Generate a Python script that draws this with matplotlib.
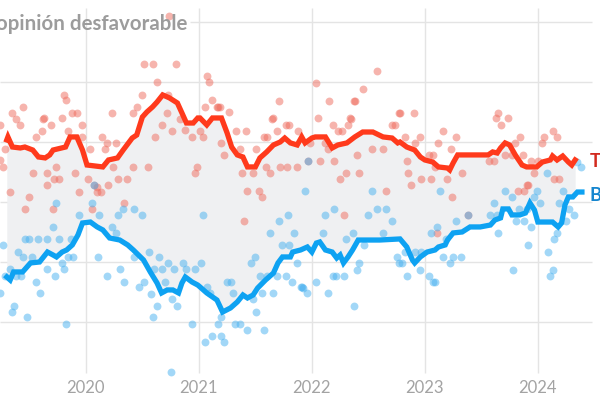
import numpy as np
import matplotlib
matplotlib.use("Agg")
import matplotlib.pyplot as plt

# ---- data (decimal year, % unfavourable) ----
trump_date = [2019.30, 2019.31, 2019.35, 2019.42, 2019.46, 2019.53, 2019.58, 2019.64, 2019.68, 2019.71,
              2019.82, 2019.86, 2019.92, 2019.97, 2020.01, 2020.15, 2020.20, 2020.28, 2020.33, 2020.41,
              2020.45, 2020.50, 2020.54, 2020.59, 2020.63, 2020.68, 2020.74, 2020.81, 2020.85, 2020.89,
              2020.95, 2020.99, 2021.01, 2021.07, 2021.12, 2021.20, 2021.25, 2021.29, 2021.34, 2021.39,
              2021.43, 2021.50, 2021.54, 2021.60, 2021.66, 2021.72, 2021.76, 2021.81, 2021.87, 2021.91,
              2021.94, 2022.00, 2022.03, 2022.12, 2022.18, 2022.23, 2022.31, 2022.38, 2022.45, 2022.54,
              2022.63, 2022.71, 2022.76, 2022.78, 2022.84, 2022.91, 2022.96, 2023.00, 2023.07, 2023.12,
              2023.20, 2023.22, 2023.25, 2023.29, 2023.37, 2023.56, 2023.60, 2023.64, 2023.67, 2023.71,
              2023.75, 2023.80, 2023.86, 2023.90, 2023.99, 2024.04, 2024.11, 2024.13, 2024.17, 2024.22,
              2024.27, 2024.30, 2024.33]
trump_avg = [50.17, 50.42, 49.58, 49.5, 49.58, 49.33, 48.75, 48.67, 48.92, 49.33,
             49.58, 50.42, 50.42, 49.33, 48.08, 47.92, 48.5, 48.67, 49.33, 50.33,
             50.58, 52.08, 52.5, 52.92, 53.33, 53.92, 53.67, 53.25, 52.42, 51.58,
             51.58, 52.0, 52.0, 51.42, 52.0, 52.0, 50.75, 49.58, 48.92, 48.75,
             47.92, 47.92, 48.67, 49.17, 49.75, 50.0, 50.33, 49.92, 49.75, 50.42,
             49.92, 50.33, 50.42, 50.42, 49.5, 49.75, 49.92, 50.42, 50.83, 50.83,
             50.42, 50.33, 49.92, 50.0, 49.58, 49.33, 48.75, 48.5, 48.33, 47.92,
             47.83, 47.67, 48.25, 48.92, 48.92, 48.92, 49.17, 49.08, 49.5, 49.92,
             49.75, 48.92, 48.08, 47.92, 47.92, 48.33, 48.5, 48.83, 48.5, 48.83,
             48.33, 48.08, 48.5]

biden_date = [2019.30, 2019.33, 2019.36, 2019.44, 2019.51, 2019.59, 2019.66, 2019.71, 2019.74, 2019.79,
              2019.83, 2019.88, 2019.93, 2019.97, 2020.04, 2020.10, 2020.15, 2020.21, 2020.30, 2020.37,
              2020.42, 2020.51, 2020.57, 2020.63, 2020.67, 2020.72, 2020.77, 2020.82, 2020.85, 2020.88,
              2020.94, 2020.99, 2021.01, 2021.07, 2021.16, 2021.21, 2021.28, 2021.34, 2021.39, 2021.43,
              2021.48, 2021.52, 2021.59, 2021.66, 2021.70, 2021.74, 2021.81, 2021.83, 2021.90, 2021.96,
              2022.00, 2022.04, 2022.07, 2022.12, 2022.18, 2022.22, 2022.25, 2022.28, 2022.32, 2022.36,
              2022.41, 2022.60, 2022.78, 2022.84, 2022.89, 2022.91, 2022.96, 2023.02, 2023.09, 2023.12,
              2023.18, 2023.20, 2023.25, 2023.33, 2023.40, 2023.49, 2023.58, 2023.62, 2023.67, 2023.69,
              2023.74, 2023.77, 2023.84, 2023.89, 2023.93, 2023.97, 2024.00, 2024.13, 2024.18, 2024.21,
              2024.24, 2024.27, 2024.31, 2024.35, 2024.39]
biden_avg = [38.75, 38.5, 39.17, 39.17, 39.92, 40.0, 40.83, 40.58, 40.42, 40.83,
             41.0, 41.42, 42.25, 43.25, 43.33, 42.92, 42.67, 42.0, 41.83, 41.42,
             41.0, 40.17, 39.17, 38.25, 37.42, 37.67, 37.67, 37.42, 38.25, 38.75,
             38.33, 38.08, 37.92, 37.42, 36.83, 35.83, 36.17, 36.67, 37.25, 37.0,
             37.25, 37.83, 38.5, 39.08, 39.92, 40.42, 40.42, 40.83, 41.0, 41.25,
             40.83, 41.58, 41.67, 41.0, 40.83, 40.33, 40.58, 39.92, 40.42, 41.0,
             41.83, 41.83, 41.92, 41.25, 40.17, 39.92, 40.42, 40.83, 41.0, 41.25,
             41.42, 41.83, 42.42, 42.5, 42.92, 42.92, 43.08, 43.5, 43.67, 44.42,
             44.42, 43.92, 43.92, 44.08, 44.92, 44.33, 43.33, 43.33, 42.92, 43.25,
             44.75, 45.42, 45.42, 45.83, 45.83]

trump_poll_date = [2020.74, 2020.51, 2020.59, 2020.80, 2021.07, 2021.09, 2020.63, 2019.81, 2019.82, 2019.35,
                   2019.44, 2020.50, 2020.73, 2021.12, 2021.05, 2021.17, 2021.27, 2021.71, 2021.66, 2020.23,
                   2019.63, 2019.79, 2019.88, 2019.92, 2020.45, 2020.42, 2022.58, 2022.04, 2022.45, 2022.15,
                   2022.38, 2022.78, 2022.90, 2022.05, 2022.34, 2023.65, 2023.63, 2023.74, 2019.38, 2019.42,
                   2019.24, 2019.62, 2019.69, 2019.97, 2019.84, 2019.61, 2019.56, 2019.28, 2019.24, 2019.27,
                   2020.61, 2020.67, 2020.72, 2020.76, 2020.83, 2020.88, 2020.94, 2019.97, 2020.04, 2020.14,
                   2020.19, 2020.17, 2020.27, 2020.24, 2020.42, 2020.55, 2019.53, 2019.66, 2019.74, 2019.90,
                   2019.72, 2019.76, 2019.66, 2020.28, 2020.36, 2020.20, 2020.02, 2020.10, 2020.10, 2020.13,
                   2019.33, 2019.94, 2019.50, 2019.46, 2020.34, 2019.71, 2020.05, 2020.97, 2020.98, 2021.04,
                   2021.01, 2021.16, 2021.19, 2021.65, 2021.33, 2021.42, 2021.58, 2021.60, 2021.69, 2021.77,
                   2021.80, 2021.88, 2021.20, 2021.22, 2021.36, 2021.51, 2021.59, 2021.63, 2021.72, 2021.78,
                   2021.87, 2021.38, 2021.48, 2021.43, 2021.53, 2021.56, 2021.40, 2022.07, 2022.20, 2022.25,
                   2022.30, 2022.42, 2022.28, 2022.66, 2022.19, 2022.23, 2022.27, 2022.32, 2022.35, 2022.37,
                   2022.71, 2022.74, 2022.77, 2021.98, 2022.12, 2022.14, 2022.40, 2022.53, 2022.63, 2022.82,
                   2022.91, 2022.96, 2023.04, 2023.07, 2023.12, 2023.16, 2023.23, 2023.28, 2022.84, 2022.85,
                   2022.88, 2022.97, 2023.05, 2023.09, 2023.20, 2023.33, 2023.24, 2023.67, 2023.84, 2023.80,
                   2023.57, 2023.61, 2023.71, 2023.77, 2023.87, 2023.94, 2024.00, 2024.04, 2024.05, 2024.13,
                   2024.17, 2023.82, 2023.88, 2023.90, 2023.91, 2023.97, 2024.14, 2024.19, 2023.11, 2020.07,
                   2021.97, 2023.38]
trump_poll = [60.5, 56.5, 56.5, 56.5, 55.5, 55.0, 55.0, 53.92, 53.5, 52.42,
              52.92, 53.92, 53.92, 53.5, 52.92, 52.92, 52.5, 53.42, 52.0, 52.42,
              52.0, 52.0, 52.42, 52.42, 52.92, 52.42, 55.92, 54.92, 54.42, 53.42,
              53.42, 52.42, 52.42, 52.0, 52.0, 52.42, 52.0, 52.0, 51.92, 51.42,
              51.42, 51.92, 51.42, 51.42, 50.92, 50.92, 50.42, 49.42, 48.5, 47.92,
              50.42, 51.42, 52.42, 50.92, 51.92, 51.0, 50.42, 50.42, 49.42, 50.42,
              49.92, 49.42, 49.92, 47.92, 47.92, 47.92, 47.42, 47.42, 47.92, 47.42,
              46.92, 46.92, 46.42, 46.92, 46.92, 46.42, 46.92, 46.25, 45.83, 45.83,
              45.83, 45.83, 45.42, 44.42, 44.92, 44.42, 44.42, 47.42, 47.92, 50.42,
              50.92, 52.92, 52.92, 51.92, 50.92, 50.92, 50.42, 50.42, 50.92, 51.42,
              51.42, 50.92, 49.92, 48.92, 49.42, 49.42, 47.92, 47.42, 47.92, 47.92,
              47.92, 47.42, 47.42, 45.92, 45.92, 45.42, 43.42, 48.42, 48.42, 46.92,
              47.42, 47.42, 43.92, 45.92, 51.42, 50.92, 50.92, 51.42, 51.92, 53.42,
              51.42, 51.42, 52.42, 49.92, 49.92, 49.42, 48.92, 49.42, 49.42, 50.42,
              49.92, 50.42, 48.92, 48.92, 49.92, 50.92, 49.42, 50.42, 48.42, 47.42,
              46.42, 46.92, 46.92, 47.92, 46.92, 47.42, 45.42, 51.42, 50.42, 49.92,
              48.42, 48.42, 48.92, 48.92, 48.92, 48.42, 48.42, 49.92, 50.42, 50.92,
              50.42, 45.92, 45.92, 46.42, 46.42, 47.42, 46.92, 46.92, 42.42, 46.42,
              48.42, 43.92]

biden_poll_date = [2019.74, 2020.05, 2019.94, 2020.12, 2020.28, 2020.33, 2020.43, 2020.50, 2019.71, 2020.23,
                   2019.46, 2019.50, 2019.58, 2019.66, 2019.76, 2019.87, 2020.27, 2019.27, 2019.40, 2019.44,
                   2019.52, 2019.84, 2019.89, 2020.11, 2020.43, 2020.56, 2020.65, 2020.73, 2019.66, 2019.79,
                   2019.81, 2019.73, 2020.30, 2020.60, 2020.67, 2020.78, 2020.86, 2020.89, 2020.97, 2019.28,
                   2019.33, 2019.38, 2019.43, 2019.56, 2020.19, 2020.34, 2020.51, 2019.24, 2019.59, 2020.47,
                   2020.58, 2020.70, 2019.36, 2019.35, 2019.48, 2019.82, 2020.63, 2020.76, 2020.81, 2020.59,
                   2020.94, 2020.75, 2021.04, 2021.79, 2021.71, 2021.63, 2021.84, 2021.74, 2021.80, 2021.50,
                   2021.46, 2021.02, 2021.94, 2021.54, 2021.60, 2021.69, 2021.77, 2021.87, 2021.07, 2021.10,
                   2021.25, 2021.28, 2021.30, 2021.48, 2021.56, 2021.66, 2021.82, 2021.90, 2021.91, 2021.96,
                   2021.20, 2021.17, 2021.32, 2021.36, 2021.43, 2021.58, 2021.51, 2021.12, 2021.05, 2021.20,
                   2021.22, 2022.12, 2022.20, 2022.36, 2022.30, 2022.10, 2022.04, 2022.14, 2022.19, 2022.21,
                   2022.28, 2022.40, 2022.42, 2022.37, 2021.92, 2022.50, 2022.53, 2022.58, 2022.63, 2022.66,
                   2022.71, 2022.75, 2022.77, 2022.46, 2023.13, 2023.28, 2023.11, 2023.05, 2023.19, 2022.82,
                   2022.91, 2022.97, 2022.80, 2023.16, 2023.25, 2023.32, 2023.22, 2022.84, 2022.96, 2023.04,
                   2023.07, 2023.09, 2023.61, 2023.58, 2023.64, 2023.65, 2023.71, 2023.77, 2023.81, 2023.83,
                   2023.88, 2023.90, 2023.94, 2023.91, 2023.78, 2023.97, 2023.99, 2024.02, 2024.08, 2024.19,
                   2024.22, 2024.25, 2024.28, 2024.32, 2024.17, 2024.14, 2024.09, 2024.13, 2024.11, 2024.35,
                   2024.38, 2020.07, 2021.97, 2023.38]
biden_poll = [44.92, 44.92, 43.92, 43.92, 43.92, 44.42, 44.42, 43.92, 42.92, 42.92,
              41.92, 41.92, 41.92, 41.92, 41.92, 41.92, 42.42, 41.42, 40.83, 40.42,
              40.42, 40.42, 40.42, 40.42, 40.42, 40.83, 40.42, 39.92, 39.42, 39.92,
              39.42, 38.83, 39.42, 39.42, 39.42, 39.42, 39.92, 39.42, 39.42, 38.83,
              39.42, 38.83, 38.83, 38.33, 38.83, 38.33, 38.33, 37.42, 37.42, 37.92,
              37.33, 38.33, 36.33, 35.83, 35.42, 34.83, 36.33, 36.92, 36.33, 35.42,
              34.83, 30.83, 43.92, 43.92, 43.42, 42.42, 42.42, 41.42, 41.42, 40.42,
              39.92, 39.92, 45.92, 38.83, 38.83, 38.83, 38.83, 39.92, 37.92, 37.42,
              38.33, 38.33, 37.42, 36.92, 37.42, 37.42, 38.33, 37.92, 37.92, 37.42,
              35.42, 34.83, 34.83, 34.83, 34.33, 34.33, 35.83, 33.83, 33.33, 33.83,
              33.33, 43.92, 44.42, 42.42, 41.92, 42.42, 38.33, 37.42, 38.83, 38.83,
              38.83, 39.33, 39.92, 36.33, 37.83, 43.92, 45.92, 44.42, 42.42, 44.42,
              43.42, 40.42, 39.92, 41.42, 45.92, 43.42, 42.92, 42.42, 41.92, 40.83,
              40.83, 40.83, 39.92, 40.42, 40.42, 40.42, 39.92, 38.83, 39.33, 38.83,
              38.33, 38.33, 44.92, 43.92, 43.92, 42.42, 45.92, 45.42, 43.42, 44.42,
              43.42, 44.42, 42.92, 41.42, 39.33, 45.42, 45.92, 44.92, 47.42, 44.92,
              45.92, 43.42, 44.42, 43.92, 42.42, 41.92, 40.83, 39.33, 38.83, 48.33,
              47.92, 46.42, 48.42, 43.92]

years = [2020, 2021, 2022, 2023, 2024]
gridvals = [60, 55, 50, 45, 40, 35]
title = "opinión desfavorable"
names = ["Trump", "Biden"]

# ---- styling ----
RED_LINE = "#ff3a1c"
BLUE_LINE = "#0ea2f2"
RED_DOT = "#ef6b5d"
BLUE_DOT = "#47b1f0"
RED_TXT = "#d22a1e"
BLUE_TXT = "#1686cf"
GRID = "#e4e4e4"
FILL = "#eff0f2"

plt.rcParams['font.family'] = ['Lato', 'DejaVu Sans']

fig = plt.figure(figsize=(6, 4), dpi=100)
ax = fig.add_axes([0, 0, 1, 1])
ax.set_xlim(2019.24, 2024.55)
ax.set_ylim(28.5, 61.83)
ax.axis('off')

# grid
x_grid_end = 2024.48
for g in gridvals:
    x0 = 2020.92 if g == gridvals[0] else 2019.24
    ax.hlines(g, x0, x_grid_end, color=GRID, lw=1.0, zorder=0)
for yr in years:
    ax.vlines(yr, 30.75, 61.2, color=GRID, lw=1.0, zorder=0)
    ax.text(yr, 29.5, str(yr), ha='center', va='center', fontsize=12,
            color='#a3a3a3', zorder=1)

# shaded gap between averages
t0 = max(trump_date[0], biden_date[0])
t1 = min(trump_date[-1], biden_date[-1])
xs = np.array(sorted(set([d for d in trump_date + biden_date if t0 <= d <= t1])))
ax.fill_between(xs, np.interp(xs, biden_date, biden_avg), np.interp(xs, trump_date, trump_avg),
                color=FILL, lw=0, zorder=1)

# polls
ax.scatter(trump_poll_date, trump_poll, s=32, color=RED_DOT, alpha=0.5, lw=0, zorder=2)
ax.scatter(biden_poll_date, biden_poll, s=32, color=BLUE_DOT, alpha=0.5, lw=0, zorder=2)

# averages
ax.plot(trump_date, trump_avg, color=RED_LINE, lw=3.8, solid_joinstyle='miter', zorder=3)
ax.plot(biden_date, biden_avg, color=BLUE_LINE, lw=3.8, solid_joinstyle='miter', zorder=3)

# end labels (clipped by the right edge, as in the reference)
ax.text(0.983, 1 - 162 / 400, names[0], transform=ax.transAxes, ha='left', va='center',
        fontsize=13.5, fontweight='bold', color=RED_TXT)
ax.text(0.983, 1 - 195 / 400, names[1], transform=ax.transAxes, ha='left', va='center',
        fontsize=13.5, fontweight='bold', color=BLUE_TXT)

# title
ax.text(0.312, 1 - 30 / 400, title, transform=ax.transAxes, ha='right', va='baseline',
        fontsize=14.8, fontweight='bold', color='#9c9c9c', zorder=5)

fig.savefig("out.png", dpi=100)
